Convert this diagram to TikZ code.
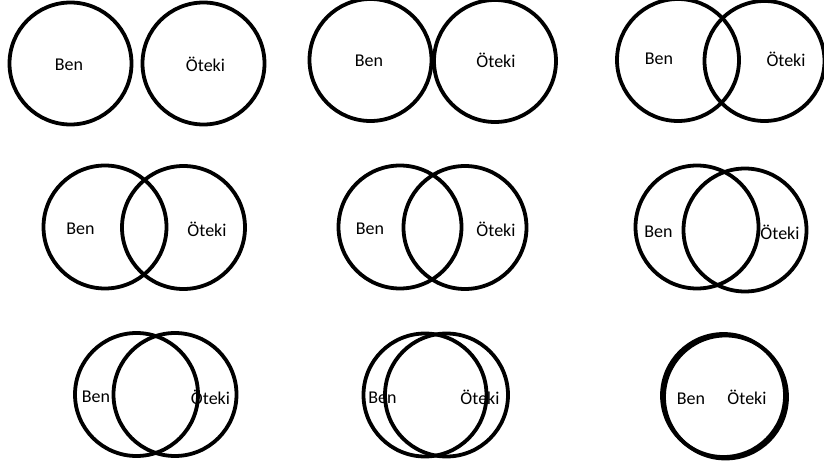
\documentclass[tikz,border=0pt]{standalone}
\usepackage{fontspec}
\setmainfont{Carlito}
\begin{document}
\begin{tikzpicture}[x=1pt,y=-1pt,
  ring/.style={draw=black,line width=3.8pt},
  lbl/.style={inner sep=0pt,anchor=base,font=\fontsize{18}{20}\selectfont}]
\useasboundingbox (0,0) rectangle (824,468);
% pair 1
\draw[ring] (70.5,63.5) circle (61);
\draw[ring] (203.5,63.5) circle (61);
\node[lbl] (b1) at (69,71) {Ben};
\node[lbl] (o1) at (205.5,72) {Öteki};
% pair 2
\draw[ring] (370.5,60) circle (61);
\draw[ring] (495,61) circle (61);
\node[lbl] (b2) at (369,67) {Ben};
\node[lbl] (o2) at (496,68) {Öteki};
% pair 3
\draw[ring] (678,60) circle (61);
\draw[ring] (764.5,61) circle (60);
\node[lbl] (b3) at (659,65) {Ben};
\node[lbl] (o3) at (786,67) {Öteki};
% pair 4
\draw[ring] (105,227) circle (61.5);
\draw[ring] (183.5,227.5) circle (61.5);
\node[lbl] (b4) at (80.5,234) {Ben};
\node[lbl] (o4) at (207,236) {Öteki};
% pair 5
\draw[ring] (400,227) circle (61.5);
\draw[ring] (465,227.5) circle (61.5);
\node[lbl] (b5) at (370,234) {Ben};
\node[lbl] (o5) at (496,236) {Öteki};
% pair 6
\draw[ring] (697,227) circle (61.5);
\draw[ring] (745,230) circle (61.5);
\node[lbl] (b6) at (658.5,237) {Ben};
\node[lbl] (o6) at (780,239) {Öteki};
% pair 7
\draw[ring] (136.5,394.5) circle (61.5);
\draw[ring] (175,394.5) circle (61.5);
\node[lbl] (b7) at (96,402) {Ben};
\node[lbl] (o7) at (210.5,404) {Öteki};
% pair 8
\draw[ring] (425,395) circle (61.5);
\draw[ring] (446.5,395) circle (61.5);
\node[lbl] (b8) at (382.5,403) {Ben};
\node[lbl] (o8) at (480,404) {Öteki};
% pair 9
\draw[ring] (723.5,395.5) circle (61.5);
\draw[ring] (725.5,397) circle (61.5);
\node[lbl] (b9) at (691,404) {Ben};
\node[lbl] (o9) at (747,404) {Öteki};
\end{tikzpicture}
\end{document}
